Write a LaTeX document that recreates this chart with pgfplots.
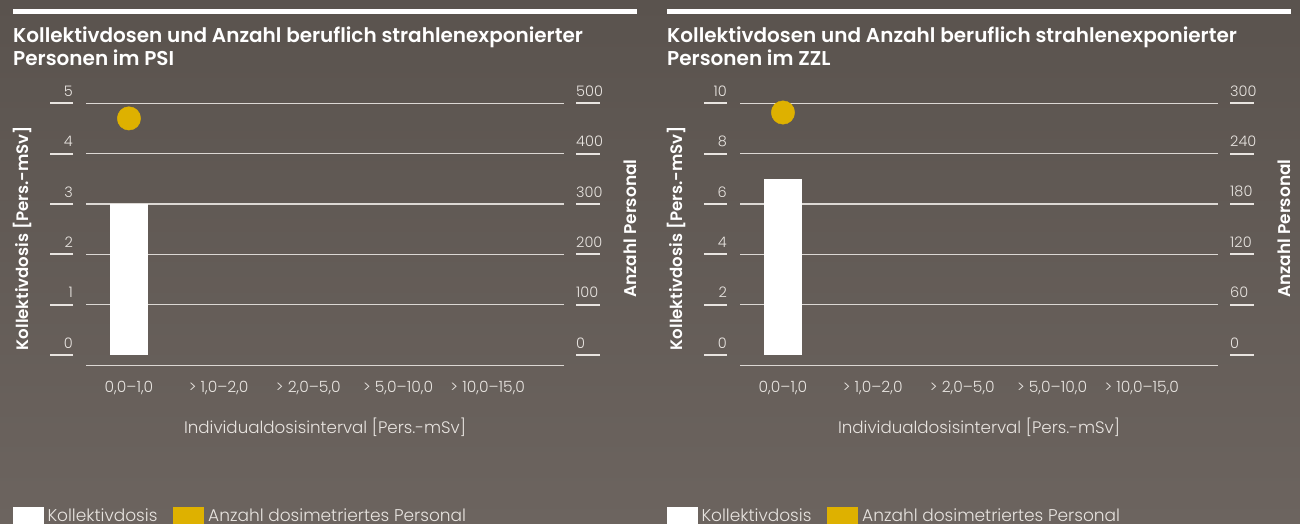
\documentclass[border=0pt]{standalone}
\usepackage{fontspec}
\usepackage{pgfplots}
\pgfplotsset{compat=1.18}
\setmainfont{Poppins Light}
\newfontfamily\semib{Poppins SemiBold}
\definecolor{bgtop}{HTML}{5A534E}
\definecolor{bgbot}{HTML}{6C645F}
\definecolor{gridc}{HTML}{DCD8D4}
\definecolor{tickc}{HTML}{E8E4E0}
\definecolor{gold}{HTML}{DEB100}

\pgfplotsset{
  panelbase/.style={
    scale only axis, width=478pt, height=262.4pt, anchor=south west, clip=false,
    xmin=-0.479, xmax=4.85,
    /pgf/number format/assume math mode=true,
    tick style={draw=none}, major tick length=0pt,
  },
  leftax/.style={
    panelbase,
    axis x line*=bottom, axis y line*=left,
    y axis line style={draw=none},
    x axis line style={draw=gridc, line width=1.5pt},
    xtick={0,...,4},
    xticklabels={{0,0–1,0},{> 1,0–2,0},{> 2,0–5,0},{> 5,0–10,0},{> 10,0–15,0}},
    xticklabel style={anchor=base, yshift=-27pt, inner sep=0pt,
      font=\fontsize{15.5}{15.5}\selectfont, text=tickc},
    ymajorgrids, grid style={draw=gridc, line width=1.2pt},
    extra y ticks={0}, extra y tick style={grid=none},
    yticklabel style={anchor=south east, xshift=-13pt, inner xsep=0pt, inner ysep=6.5pt,
      font=\fontsize{14.5}{14.5}\selectfont, text=tickc,
      append after command={(\tikzlastnode.south east) edge[draw=tickc, line width=2pt] ([xshift=-23pt]\tikzlastnode.south east)}},
  },
  rightax/.style={
    panelbase,
    hide x axis,
    axis y line*=right,
    y axis line style={draw=none},
    yticklabel style={anchor=south west, xshift=12pt, inner xsep=0pt, inner ysep=6.5pt,
      font=\fontsize{14.5}{14.5}\selectfont, text=tickc,
      append after command={(\tikzlastnode.south west) edge[draw=tickc, line width=2pt] ([xshift=24pt]\tikzlastnode.south west)}},
  },
}

\begin{document}
\begin{tikzpicture}[x=1pt,y=1pt]
\shade[top color=bgtop, bottom color=bgbot] (0pt,0pt) rectangle (1300pt,-524pt);

% ---------------- PSI panel ----------------
\fill[white] (13pt,-9pt) rectangle (637pt,-14pt);
\node[anchor=base west, inner sep=0, text=white, font=\semib\fontsize{20}{20}\selectfont] at (13pt,-42.3pt) {Kollektivdosen und Anzahl beruflich strahlenexponierter};
\node[anchor=base west, inner sep=0, text=white, font=\semib\fontsize{20}{20}\selectfont] at (13pt,-65.7pt) {Personen im PSI};

\begin{axis}[leftax, at={(86pt,-365.7pt)}, ymin=-0.2127, ymax=5, ytick={1,2,3,4,5}]
  \addplot[ybar, bar width=38pt, fill=white, draw=none] coordinates {(0,3.0)};
\end{axis}
\begin{axis}[rightax, at={(86pt,-365.7pt)}, ymin=-21.27, ymax=500, ytick={0,100,...,500}]
  \addplot[only marks, mark=*, mark size=11.7pt, gold, mark options={draw=none, fill=gold}] coordinates {(0,470)};
\end{axis}

\node[rotate=90, inner sep=0, text=white, font=\semib\fontsize{16.6}{16.6}\selectfont] at (22pt,-238pt) {Kollektivdosis [Pers.-mSv]};
\node[rotate=90, inner sep=0, text=white, font=\semib\fontsize{17}{17}\selectfont] at (630pt,-228.7pt) {Anzahl Personal};
\node[anchor=base, inner sep=0, text=tickc, font=\fontsize{16.7}{16.7}\selectfont] at (325pt,-433.3pt) {Individualdosisinterval [Pers.-mSv]};

\fill[white] (13.3pt,-507.3pt) rectangle (44pt,-524pt);
\node[anchor=base west, inner sep=0, text=tickc, font=\fontsize{17}{17}\selectfont] at (47.3pt,-521pt) {Kollektivdosis};
\fill[gold] (173pt,-507.3pt) rectangle (204pt,-524pt);
\node[anchor=base west, inner sep=0, text=tickc, font=\fontsize{17}{17}\selectfont] at (208pt,-521pt) {Anzahl dosimetriertes Personal};

% ---------------- ZZL panel ----------------
\fill[white] (667pt,-9pt) rectangle (1291pt,-14pt);
\node[anchor=base west, inner sep=0, text=white, font=\semib\fontsize{20}{20}\selectfont] at (667pt,-42.3pt) {Kollektivdosen und Anzahl beruflich strahlenexponierter};
\node[anchor=base west, inner sep=0, text=white, font=\semib\fontsize{20}{20}\selectfont] at (667pt,-65.7pt) {Personen im ZZL};

\begin{axis}[leftax, at={(740pt,-365.7pt)}, ymin=-0.4253, ymax=10, ytick={2,4,6,8,10}]
  \addplot[ybar, bar width=38pt, fill=white, draw=none] coordinates {(0,7.0)};
\end{axis}
\begin{axis}[rightax, at={(740pt,-365.7pt)}, ymin=-12.76, ymax=300, ytick={0,60,...,300}]
  \addplot[only marks, mark=*, mark size=11.7pt, gold, mark options={draw=none, fill=gold}] coordinates {(0,289)};
\end{axis}

\node[rotate=90, inner sep=0, text=white, font=\semib\fontsize{16.6}{16.6}\selectfont] at (676pt,-238pt) {Kollektivdosis [Pers.-mSv]};
\node[rotate=90, inner sep=0, text=white, font=\semib\fontsize{17}{17}\selectfont] at (1284pt,-228.7pt) {Anzahl Personal};
\node[anchor=base, inner sep=0, text=tickc, font=\fontsize{16.7}{16.7}\selectfont] at (979pt,-433.3pt) {Individualdosisinterval [Pers.-mSv]};

\fill[white] (667.3pt,-507.3pt) rectangle (698pt,-524pt);
\node[anchor=base west, inner sep=0, text=tickc, font=\fontsize{17}{17}\selectfont] at (701.3pt,-521pt) {Kollektivdosis};
\fill[gold] (827pt,-507.3pt) rectangle (858pt,-524pt);
\node[anchor=base west, inner sep=0, text=tickc, font=\fontsize{17}{17}\selectfont] at (862pt,-521pt) {Anzahl dosimetriertes Personal};

\pgfresetboundingbox
\useasboundingbox (0pt,0pt) rectangle (1300pt,-524pt);
\end{tikzpicture}
\end{document}
